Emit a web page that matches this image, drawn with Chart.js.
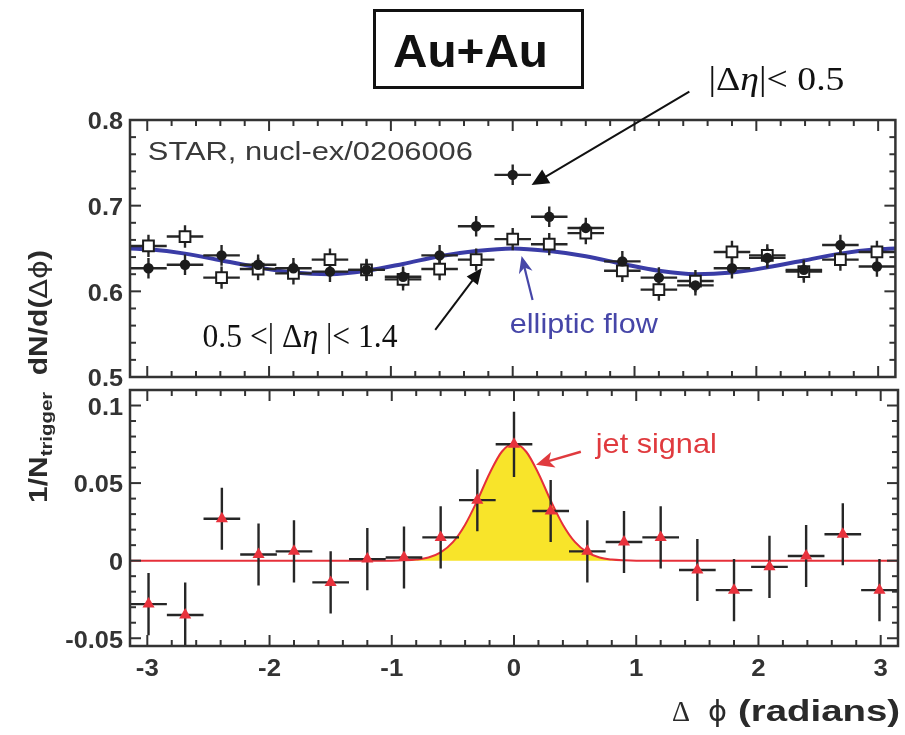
<!DOCTYPE html>
<html>
<head>
<meta charset="utf-8">
<title>Au+Au azimuthal correlations</title>
<script src="https://cdn.jsdelivr.net/npm/chart.js@4.4.1/dist/chart.umd.min.js"></script>
<style>
  html, body { margin: 0; padding: 0; background: #fff; }
  #wrap { position: relative; width: 905px; height: 735px; overflow: hidden; background: #fff; }
  #wrap canvas { position: absolute; left: 0; top: 0; }
</style>
</head>
<body>
<div id="wrap">
  <canvas id="flowPanel" width="905" height="735"></canvas>
  <canvas id="jetPanel" width="905" height="735"></canvas>
</div>
<script>
// ---- data -------------------------------------------------------------
// Δφ bin centres (21 bins over −π … π)
const deltaPhi = [-2.99, -2.69, -2.39, -2.09, -1.80, -1.50, -1.20, -0.90, -0.60, -0.30, 0.00,
                   0.30,  0.60,  0.90,  1.20,  1.50,  1.80,  2.09,  2.39,  2.69,  2.99];
const binHalfWidth = 0.15;

// upper panel: |Δη| < 0.5 (filled circles)
const nearEta    = [0.627, 0.631, 0.642, 0.631, 0.627, 0.623, 0.625, 0.617, 0.642, 0.676, 0.736,
                    0.687, 0.674, 0.635, 0.616, 0.607, 0.627, 0.639, 0.625, 0.654, 0.629];
const nearEtaErr = [0.012, 0.012, 0.012, 0.012, 0.012, 0.012, 0.012, 0.012, 0.012, 0.012, 0.012,
                    0.012, 0.012, 0.012, 0.012, 0.012, 0.012, 0.012, 0.012, 0.012, 0.012];

// upper panel: 0.5 < |Δη| < 1.4 (open squares)
const farEta     = [0.653, 0.664, 0.616, 0.626, 0.621, 0.637, 0.625, 0.614, 0.626, 0.637, 0.661,
                    0.655, 0.668, 0.624, 0.602, 0.612, 0.646, 0.642, 0.623, 0.637, 0.646];
const farEtaErr  = [0.013, 0.013, 0.013, 0.013, 0.013, 0.013, 0.013, 0.013, 0.013, 0.013, 0.013,
                    0.013, 0.013, 0.013, 0.013, 0.013, 0.013, 0.013, 0.013, 0.013, 0.013];

// elliptic-flow modulation drawn through the upper panel
const flowPhi   = [-3.14, -2.99, -2.69, -2.39, -2.09, -1.80, -1.50, -1.20, -0.90, -0.60, -0.30, 0.00,
                    0.30,  0.60,  0.90,  1.20,  1.50,  1.80,  2.09,  2.39,  2.69,  2.99,  3.14];
const flowCurve = [0.650, 0.649, 0.644, 0.636, 0.628, 0.622, 0.620, 0.624, 0.632, 0.641, 0.647, 0.650,
                   0.647, 0.641, 0.632, 0.624, 0.620, 0.622, 0.628, 0.636, 0.644, 0.649, 0.650];

// lower panel: near-side minus far-side difference (red triangles)
const jetSignal    = [-0.028, -0.035, 0.027, 0.004, 0.006, -0.014, 0.001, 0.002, 0.015, 0.039, 0.075,
                       0.032,  0.006, 0.012, 0.015, -0.006, -0.019, -0.004, 0.003, 0.017, -0.019];
const jetSignalErr = [0.020, 0.021, 0.020, 0.020, 0.020, 0.020, 0.020, 0.020, 0.020, 0.020, 0.021,
                      0.020, 0.020, 0.020, 0.020, 0.020, 0.020, 0.020, 0.020, 0.020, 0.020];

// jet peak curve (zero baseline plus near-side peak)
const jetFitPhi = [-3.14, -1.0, -0.9, -0.8, -0.7, -0.6, -0.5, -0.4, -0.3, -0.2, -0.1, 0.0,
                    0.1,   0.2,  0.3,  0.4,  0.5,  0.6,  0.7,  0.8,  0.9,  1.0,  3.14];
const jetFit    = [0, 0, 0.0002, 0.0007, 0.0020, 0.0053, 0.0119, 0.0232, 0.0388, 0.0562, 0.0702, 0.0755,
                   0.0702, 0.0562, 0.0388, 0.0232, 0.0119, 0.0053, 0.0020, 0.0007, 0.0002, 0, 0];

// axis tick labels
const phiTickValues  = [-3, -2, -1, 0, 1, 2, 3];
const phiTickLabels  = ['-3', '-2', '-1', '0', '1', '2', '3'];
const flowTickValues = [0.5, 0.6, 0.7, 0.8];
const flowTickLabels = ['0.5', '0.6', '0.7', '0.8'];
const jetTickValues  = [-0.05, 0, 0.05, 0.1];
const jetTickLabels  = ['-0.05', '0', '0.05', '0.1'];

// ---- helpers ------------------------------------------------------------
const INK = '#2b2b2b';
const SANS = '"Liberation Sans", Arial, Helvetica, sans-serif';
const SERIF = '"Liberation Serif", "Times New Roman", serif';

function toPoints(xs, ys) {
  return xs.map((x, i) => ({ x: x, y: ys[i] }));
}

// crosses for each point: horizontal bin width and vertical uncertainty,
// separated by gaps so that each piece is its own segment
function errorCrosses(xs, ys, halfWidth, errs) {
  const pts = [];
  xs.forEach((x, i) => {
    pts.push({ x: x - halfWidth, y: ys[i] }, { x: x + halfWidth, y: ys[i] }, { x: x, y: null });
    pts.push({ x: x, y: ys[i] - errs[i] }, { x: x, y: ys[i] + errs[i] }, { x: x, y: null });
  });
  return pts;
}

// draw a sequence of differently styled text runs, optionally stretched to a width
function drawRuns(ctx, runs, x, y, opts) {
  opts = opts || {};
  ctx.save();
  let natural = 0;
  runs.forEach(r => { ctx.font = r.font; r.w = ctx.measureText(r.text).width; natural += r.w; });
  const sx = opts.width ? opts.width / natural : (opts.sx || 1);
  const total = natural * sx;
  ctx.translate(x, y);
  if (opts.rotate) ctx.rotate(opts.rotate);
  let x0 = 0;
  if (opts.align === 'center') x0 = -total / 2;
  else if (opts.align === 'right') x0 = -total;
  ctx.translate(x0, 0);
  ctx.scale(sx, 1);
  ctx.fillStyle = opts.color || INK;
  ctx.textAlign = 'left';
  ctx.textBaseline = opts.baseline || 'alphabetic';
  let cx = 0;
  runs.forEach(r => {
    ctx.font = r.font;
    ctx.fillText(r.text, cx, r.dy || 0);
    cx += r.w;
  });
  ctx.restore();
}

function arrow(ctx, x1, y1, x2, y2, color, width, headLen, headHalf, notch) {
  const ang = Math.atan2(y2 - y1, x2 - x1);
  const c = Math.cos(ang), s = Math.sin(ang);
  const bx = x2 - headLen * c, by = y2 - headLen * s;
  const nx = x2 - headLen * (1 - (notch || 0)) * c, ny = y2 - headLen * (1 - (notch || 0)) * s;
  ctx.save();
  ctx.strokeStyle = color;
  ctx.fillStyle = color;
  ctx.lineWidth = width;
  ctx.beginPath();
  ctx.moveTo(x1, y1);
  ctx.lineTo(nx + 0.5 * c, ny + 0.5 * s);
  ctx.stroke();
  ctx.beginPath();
  ctx.moveTo(x2, y2);
  ctx.lineTo(bx + headHalf * s, by - headHalf * c);
  ctx.lineTo(nx, ny);
  ctx.lineTo(bx - headHalf * s, by + headHalf * c);
  ctx.closePath();
  ctx.fill();
  ctx.restore();
}

// panel border, inward ticks on all four sides, and numeric tick labels
function panelFrame(cfg) {
  return {
    id: 'panelFrame',
    afterDatasetsDraw(chart) {
      const { ctx, chartArea: a, scales: { x, y } } = chart;
      ctx.save();
      ctx.strokeStyle = '#333';
      ctx.lineWidth = 2;
      const seg = (x1, y1, x2, y2) => { ctx.beginPath(); ctx.moveTo(x1, y1); ctx.lineTo(x2, y2); ctx.stroke(); };
      for (let i = -15; i <= 15; i++) {
        const px = x.getPixelForValue(i * 0.2);
        const len = i % 5 === 0 ? 11 : 6;
        seg(px, a.bottom, px, a.bottom - len);
        seg(px, a.top, px, a.top + len);
      }
      for (let i = cfg.yFrom; i <= cfg.yTo; i++) {
        const py = y.getPixelForValue(i * cfg.yStep);
        const len = i % 5 === 0 ? 11 : 6;
        seg(a.left, py, a.left + len, py);
        seg(a.right, py, a.right - len, py);
      }
      ctx.lineWidth = 2.5;
      ctx.strokeRect(a.left, a.top, a.right - a.left, a.bottom - a.top);

      const tickFont = 'bold 23px ' + SANS;
      cfg.yValues.forEach((v, i) => {
        drawRuns(ctx, [{ text: cfg.yLabels[i], font: tickFont }], a.left - 7, y.getPixelForValue(v) + 3,
                 { align: 'right', sx: 1.1, baseline: 'middle', color: '#333' });
      });
      if (cfg.xLabels) {
        phiTickValues.forEach((v, i) => {
          drawRuns(ctx, [{ text: phiTickLabels[i], font: tickFont }], x.getPixelForValue(v), a.bottom + 30,
                   { align: 'center', sx: 1.12, color: '#333' });
        });
      }
      ctx.restore();
    }
  };
}

// annotation positions are given in data coordinates of each panel
const flowNotes = {
  id: 'flowNotes',
  afterDraw(chart) {
    const { ctx, scales: { x, y } } = chart;
    const X = v => x.getPixelForValue(v), Y = v => y.getPixelForValue(v);

    // collision-system box
    ctx.save();
    ctx.strokeStyle = '#111';
    ctx.lineWidth = 3;
    ctx.strokeRect(374.5, 10.5, 208, 77);
    ctx.restore();
    drawRuns(ctx, [{ text: 'Au+Au', font: 'bold 47px ' + SANS }], 470.5, 67,
             { align: 'center', width: 155, color: '#111' });

    drawRuns(ctx, [{ text: 'STAR, nucl-ex/0206006', font: '25px ' + SANS }], X(-2.995), Y(0.7535),
             { width: 325, color: '#3a3a3a' });

    // |Δη| < 0.5 label and arrow
    drawRuns(ctx, [
      { text: '|Δ', font: '33px ' + SERIF },
      { text: 'η', font: 'italic 33px ' + SERIF },
      { text: '|< 0.5', font: '33px ' + SERIF }
    ], X(1.607), Y(0.8355), { width: 136, color: '#111' });
    arrow(ctx, X(1.45), Y(0.833), X(0.155), Y(0.7241), '#111', 2, 17, 8, 0);

    // 0.5 < |Δη| < 1.4 label and arrow
    drawRuns(ctx, [
      { text: '0.5 <| Δ', font: '33px ' + SERIF },
      { text: 'η', font: 'italic 33px ' + SERIF },
      { text: ' |< 1.4', font: '33px ' + SERIF }
    ], X(-2.546), Y(0.535), { width: 195, color: '#111' });
    arrow(ctx, X(-0.636), Y(0.5549), X(-0.253), Y(0.6272), '#111', 2, 16, 7, 0);

    // elliptic flow label and arrow
    drawRuns(ctx, [{ text: 'elliptic flow', font: '28px ' + SANS }], X(-0.024), Y(0.5514),
             { width: 148, color: '#4646a8' });
    arrow(ctx, X(0.163), Y(0.5899), X(0.073), Y(0.6413), '#4646a8', 2.2, 17, 7, 0.3);

    // vertical axis title
    drawRuns(ctx, [
      { text: '1/N', font: 'bold 25px ' + SANS },
      { text: 'trigger', font: 'bold 17px ' + SANS, dy: 5 },
      { text: '  dN/d(', font: 'bold 25px ' + SANS },
      { text: 'Δϕ', font: '24px "DejaVu Sans", sans-serif' },
      { text: ')', font: 'bold 25px ' + SANS }
    ], 47, 503, { rotate: -Math.PI / 2, width: 253, color: '#2a2a2a' });
  }
};

const jetNotes = {
  id: 'jetNotes',
  afterDraw(chart) {
    const { ctx, scales: { x, y } } = chart;
    const X = v => x.getPixelForValue(v), Y = v => y.getPixelForValue(v);

    drawRuns(ctx, [{ text: 'jet signal', font: '28px ' + SANS }], X(0.669), Y(0.0697),
             { width: 121, color: '#e03a3e' });
    arrow(ctx, X(0.547), Y(0.0702), X(0.180), Y(0.0618), '#e03a3e', 2.4, 18, 8, 0.25);

    // horizontal axis title
    drawRuns(ctx, [{ text: 'Δ', font: '30px ' + SERIF }], 672, 721, { width: 18, color: '#2a2a2a' });
    drawRuns(ctx, [{ text: 'ϕ', font: '28px "DejaVu Sans", sans-serif' }], 708, 721, { width: 19, color: '#2a2a2a' });
    drawRuns(ctx, [{ text: '(radians)', font: 'bold 29px ' + SANS }], 738, 721, { width: 162, color: '#2a2a2a' });
  }
};

const baseOptions = (padding, yMin, yMax) => ({
  responsive: false,
  devicePixelRatio: 1,
  animation: false,
  events: [],
  layout: { padding: padding },
  plugins: { legend: { display: false }, tooltip: { enabled: false }, title: { display: false } },
  scales: {
    x: { type: 'linear', display: false, min: -Math.PI, max: Math.PI },
    y: { type: 'linear', display: false, min: yMin, max: yMax }
  }
});

// ---- upper panel: correlation functions with flow -------------------------
new Chart(document.getElementById('flowPanel'), {
  type: 'line',
  data: {
    datasets: [
      { label: '|Δη| < 0.5', data: toPoints(deltaPhi, nearEta), showLine: false,
        pointStyle: 'circle', pointRadius: 5.2, pointBorderWidth: 0,
        pointBackgroundColor: '#1c1c1c', pointBorderColor: '#1c1c1c', order: 0 },
      { label: '0.5 < |Δη| < 1.4', data: toPoints(deltaPhi, farEta), showLine: false,
        pointStyle: 'rect', pointRadius: 7.6, pointBorderWidth: 2,
        pointBackgroundColor: '#ffffff', pointBorderColor: '#1c1c1c', order: 1 },
      { label: 'near errors', data: errorCrosses(deltaPhi, nearEta, binHalfWidth, nearEtaErr),
        borderColor: '#262626', borderWidth: 2.4, pointRadius: 0, spanGaps: false, order: 2 },
      { label: 'far errors', data: errorCrosses(deltaPhi, farEta, binHalfWidth, farEtaErr),
        borderColor: '#262626', borderWidth: 2.4, pointRadius: 0, spanGaps: false, order: 3 },
      { label: 'elliptic flow', data: toPoints(flowPhi, flowCurve),
        borderColor: '#3a3ca6', borderWidth: 4, pointRadius: 0,
        cubicInterpolationMode: 'monotone', order: 4 }
    ]
  },
  options: baseOptions({ left: 130, right: 5, top: 120, bottom: 358 }, 0.5, 0.8),
  plugins: [
    panelFrame({ yFrom: 25, yTo: 40, yStep: 0.02, yValues: flowTickValues, yLabels: flowTickLabels, xLabels: false }),
    flowNotes
  ]
});

// ---- lower panel: jet signal ---------------------------------------------
new Chart(document.getElementById('jetPanel'), {
  type: 'line',
  data: {
    datasets: [
      { label: 'difference', data: toPoints(deltaPhi, jetSignal), showLine: false,
        pointStyle: 'triangle', pointRadius: 7, pointBorderWidth: 0,
        pointBackgroundColor: '#e8323c', pointBorderColor: '#e8323c', order: 0 },
      { label: 'difference errors', data: errorCrosses(deltaPhi, jetSignal, binHalfWidth, jetSignalErr),
        borderColor: '#262626', borderWidth: 2.4, pointRadius: 0, spanGaps: false, order: 1 },
      { label: 'jet signal', data: toPoints(jetFitPhi, jetFit),
        borderColor: '#e6303a', borderWidth: 2, pointRadius: 0,
        backgroundColor: '#f8e42a', fill: 'origin',
        cubicInterpolationMode: 'monotone', order: 2 }
    ]
  },
  options: baseOptions({ left: 130, right: 5, top: 390, bottom: 89 }, -0.055, 0.11),
  plugins: [
    panelFrame({ yFrom: -5, yTo: 11, yStep: 0.01, yValues: jetTickValues, yLabels: jetTickLabels, xLabels: true }),
    jetNotes
  ]
});
</script>
</body>
</html>
